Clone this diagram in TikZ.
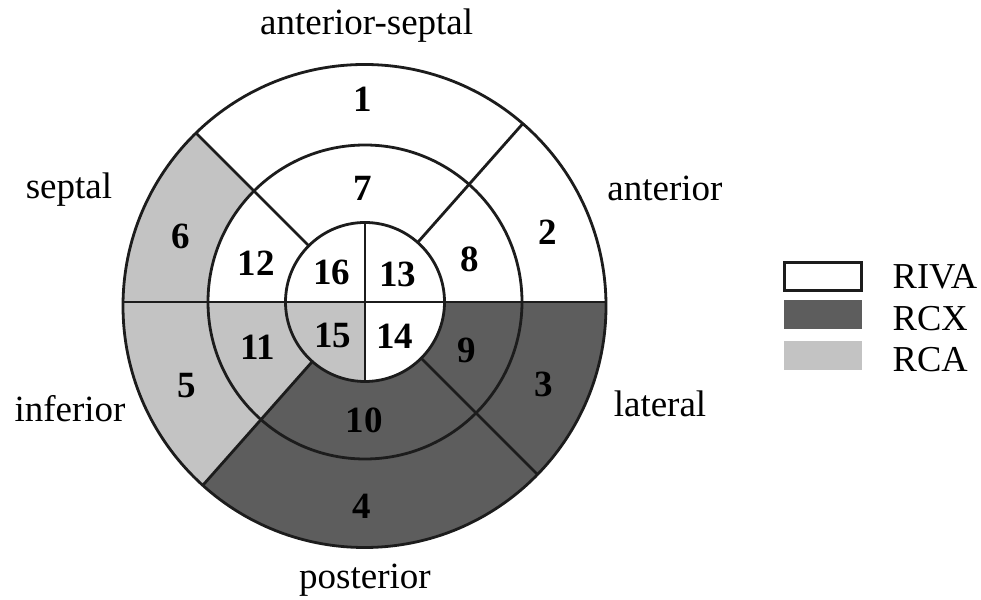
\documentclass[tikz,border=0pt]{standalone}
\usepackage{fontspec}
\setmainfont{Liberation Serif}
\usetikzlibrary{calc}
\definecolor{rcxgray}{HTML}{5D5D5D}
\definecolor{rcagray}{HTML}{C3C3C3}
\definecolor{ink}{HTML}{1C1C1C}
% clip to a wedge around (O) between two angles
\newcommand\wedgeclip[2]{\clip (O) -- ++(#1:400) arc[start angle=#1, end angle=#2, radius=400] -- cycle;}
\begin{document}
\begin{tikzpicture}[x=1pt,y=1pt,
  seglabel/.style={font=\fontsize{37}{44}\selectfont\bfseries, inner sep=0pt, anchor=center},
  sidelabel/.style={font=\fontsize{37}{44}\selectfont, inner sep=0pt, anchor=base},
  legendtext/.style={font=\fontsize{36.5}{44}\selectfont, inner sep=0pt, anchor=base west},
  ring/.style={draw=ink, line width=2.8pt}]
\useasboundingbox[fill=white] (0,0) rectangle (981,599);

% centres of the inner circles and of the outer circle
\coordinate (O) at (365,297);
\coordinate (Oo) at (364.5,293);
\def\Ri{79.5}
\def\Rm{157}
\def\Ro{241.5}

% fills
\fill[white] (Oo) circle (\Ro);
\begin{scope}\wedgeclip{228.5}{360}\fill[rcxgray] (Oo) circle (\Ro);\end{scope}
\begin{scope}\wedgeclip{135}{228.5}\fill[rcagray] (Oo) circle (\Ro);\end{scope}
\begin{scope}\wedgeclip{135}{180}\fill[white] (O) circle (\Rm);\end{scope}
\fill[white] (O) circle (\Ri);
\begin{scope}\wedgeclip{180}{270}\fill[rcagray] (O) circle (\Ri);\end{scope}

% segment borders
\begin{scope}
  \clip (Oo) circle (\Ro);
  \coordinate (hl) at ($(O)+(180:260)$);
  \coordinate (hr) at ($(O)+(0:260)$);
  \draw[ring] (hl) -- (hr);
  \draw[ring] (O) ++(48.5:\Ri) -- ++(48.5:200);
  \draw[ring] (O) ++(135:\Ri) -- ++(135:200);
  \draw[ring] (O) ++(228.5:\Ri) -- ++(228.5:200);
  \draw[ring] (O) ++(315:\Ri) -- ++(315:200);
\end{scope}
\coordinate (vt) at ($(O)+(90:\Ri)$);
\coordinate (vb) at ($(O)+(270:\Ri)$);
\draw[ring] (vt) -- (vb);
\draw[ring] (O) circle (\Ri);
\draw[ring] (O) circle (\Rm);
\draw[ring] (Oo) circle (\Ro);

% segment numbers
\node[seglabel] (s1) at (363,500) {1};
\node[seglabel] (s2) at (547.5,367) {2};
\node[seglabel] (s3) at (543.5,215) {3};
\node[seglabel] (s4) at (362,93) {4};
\node[seglabel] (s5) at (187,213) {5};
\node[seglabel] (s6) at (180.5,363) {6};
\node[seglabel] (s7) at (363,411) {7};
\node[seglabel] (s8) at (470,340) {8};
\node[seglabel] (s9) at (466.5,249) {9};
\node[seglabel] (s10) at (364,179) {10};
\node[seglabel] (s11) at (258,252) {11};
\node[seglabel] (s12) at (256,336) {12};
\node[seglabel] (s13) at (397.5,324.3) {13};
\node[seglabel] (s14) at (394.5,263.2) {14};
\node[seglabel] (s15) at (332.5,263.2) {15};
\node[seglabel] (s16) at (331.7,326.5) {16};

% wall names
\node[sidelabel] (antsep) at (366.7,564) {anterior-septal};
\node[sidelabel] (sep) at (69,400) {septal};
\node[sidelabel] (ant) at (665,398) {anterior};
\node[sidelabel] (inf) at (70,177) {inferior};
\node[sidelabel] (lat) at (660,182) {lateral};
\node[sidelabel] (post) at (365,11) {posterior};

% legend
\draw[ink, line width=2.8pt, fill=white] (784.8,308.8) rectangle (861.2,336.8);
\fill[rcxgray] (784.3,269.7) rectangle (862,299);
\fill[rcagray] (784.3,229) rectangle (862,258.3);
\node[legendtext] (lriva) at (892.5,310.7) {RIVA};
\node[legendtext] (lrcx) at (892.5,268.3) {RCX};
\node[legendtext] (lrca) at (892.5,227.3) {RCA};
\end{tikzpicture}
\end{document}
